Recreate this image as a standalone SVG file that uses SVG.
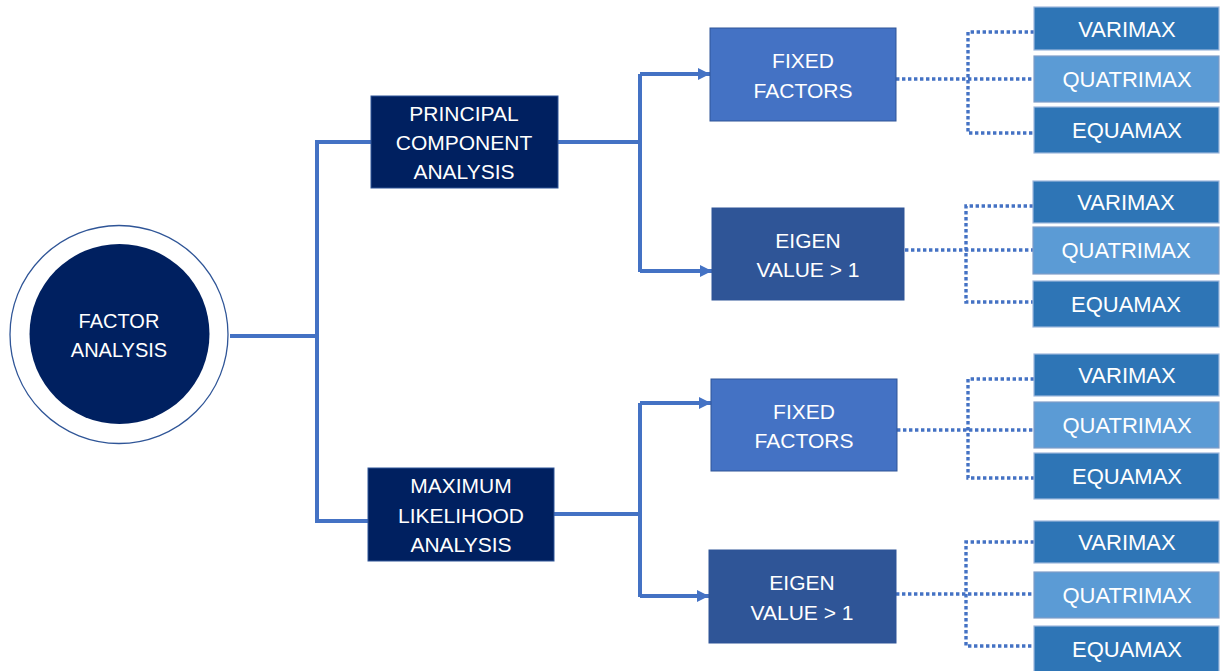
<svg xmlns="http://www.w3.org/2000/svg" width="1220" height="671" viewBox="0 0 1220 671">
<style>
text{font-family:"Liberation Sans",Arial,sans-serif;font-size:21px;fill:#ffffff;text-anchor:middle}
.r{font-size:22px}
.c{font-size:20px}
.navy{fill:#002060;stroke:#2F5597;stroke-width:1}
.fixed{fill:#4472C4;stroke:#2F5597;stroke-width:1}
.eigen{fill:#2F5597;stroke:#2F5597;stroke-width:1}
.dk{fill:#2E75B6;stroke:#9DB7DC;stroke-width:1.2}
.lt{fill:#5B9BD5;stroke:#7F9DC8;stroke-width:1.2}
.solid{fill:none;stroke:#4472C4;stroke-width:4}
.dot{fill:none;stroke:#4472C4;stroke-width:3.4;stroke-dasharray:3.4 2.6}
</style>
<defs>
<marker id="ah" viewBox="0 0 10 10" refX="10" refY="5" markerWidth="3" markerHeight="3" markerUnits="strokeWidth" orient="auto">
<path d="M0,0 L10,5 L0,10 z" fill="#4472C4"/>
</marker>
</defs>
<g id="connectors">
<path class="solid" d="M230,336 H317"/>
<path class="solid" d="M371,142 H317 V521 H368"/>
<path class="solid" d="M558,142 H640"/>
<path class="solid" d="M640,74 V272"/>
<path class="solid" d="M640,74 H710" marker-end="url(#ah)"/>
<path class="solid" d="M640,271 H712" marker-end="url(#ah)"/>
<path class="solid" d="M554,514 H640"/>
<path class="solid" d="M640,403 V597"/>
<path class="solid" d="M640,403 H711" marker-end="url(#ah)"/>
<path class="solid" d="M640,596 H709" marker-end="url(#ah)"/>
<path class="dot" d="M896,79 H1034 M1034,32 H968 V133 H1034"/>
<path class="dot" d="M905,250 H1033 M1033,206 H966 V302 H1033"/>
<path class="dot" d="M897,430 H1034 M1034,379 H968 V478 H1034"/>
<path class="dot" d="M896,594 H1034 M1034,542 H966 V646 H1034"/>
</g>
<g id="factor-analysis">
<circle cx="119" cy="334.5" r="109" fill="#ffffff" stroke="#2F5597" stroke-width="1.3"/>
<circle cx="119.5" cy="334" r="90" fill="#002060"/>
<text class="c" x="119" y="328">FACTOR</text>
<text class="c" x="119" y="357">ANALYSIS</text>
</g>
<g id="pca">
<rect class="navy" x="371" y="96" width="187" height="92"/>
<text x="464" y="121">PRINCIPAL</text>
<text x="464" y="150">COMPONENT</text>
<text x="464" y="179">ANALYSIS</text>
</g>
<g id="mla">
<rect class="navy" x="368" y="468" width="186" height="93"/>
<text x="461" y="493">MAXIMUM</text>
<text x="461" y="523">LIKELIHOOD</text>
<text x="461" y="552">ANALYSIS</text>
</g>
<g id="fixed1">
<rect class="fixed" x="710" y="28" width="186" height="93"/>
<text x="803" y="68">FIXED</text>
<text x="803" y="98">FACTORS</text>
</g>
<g id="eigen1">
<rect class="eigen" x="712" y="208" width="192" height="92"/>
<text x="808" y="248">EIGEN</text>
<text x="808" y="277">VALUE &gt; 1</text>
</g>
<g id="fixed2">
<rect class="fixed" x="711" y="379" width="186" height="92"/>
<text x="804" y="419">FIXED</text>
<text x="804" y="448">FACTORS</text>
</g>
<g id="eigen2">
<rect class="eigen" x="709" y="550" width="187" height="93"/>
<text x="802" y="590">EIGEN</text>
<text x="802" y="620">VALUE &gt; 1</text>
</g>
<g id="varimax1"><rect class="dk" x="1034" y="7" width="185" height="43"/><text class="r" x="1127" y="37">VARIMAX</text></g>
<g id="quatrimax1"><rect class="lt" x="1034" y="56" width="185" height="46"/><text class="r" x="1127" y="87">QUATRIMAX</text></g>
<g id="equamax1"><rect class="dk" x="1034" y="107" width="185" height="46"/><text class="r" x="1127" y="138">EQUAMAX</text></g>
<g id="varimax2"><rect class="dk" x="1033" y="181" width="186" height="42"/><text class="r" x="1126" y="210">VARIMAX</text></g>
<g id="quatrimax2"><rect class="lt" x="1033" y="227" width="186" height="47"/><text class="r" x="1126" y="258">QUATRIMAX</text></g>
<g id="equamax2"><rect class="dk" x="1033" y="281" width="186" height="46"/><text class="r" x="1126" y="312">EQUAMAX</text></g>
<g id="varimax3"><rect class="dk" x="1034" y="354" width="185" height="42"/><text class="r" x="1127" y="383">VARIMAX</text></g>
<g id="quatrimax3"><rect class="lt" x="1034" y="402" width="185" height="46"/><text class="r" x="1127" y="433">QUATRIMAX</text></g>
<g id="equamax3"><rect class="dk" x="1034" y="453" width="185" height="46"/><text class="r" x="1127" y="484">EQUAMAX</text></g>
<g id="varimax4"><rect class="dk" x="1034" y="521" width="185" height="42"/><text class="r" x="1127" y="550">VARIMAX</text></g>
<g id="quatrimax4"><rect class="lt" x="1034" y="572" width="185" height="46"/><text class="r" x="1127" y="603">QUATRIMAX</text></g>
<g id="equamax4"><rect class="dk" x="1034" y="626" width="185" height="46"/><text class="r" x="1127" y="657">EQUAMAX</text></g>
</svg>
